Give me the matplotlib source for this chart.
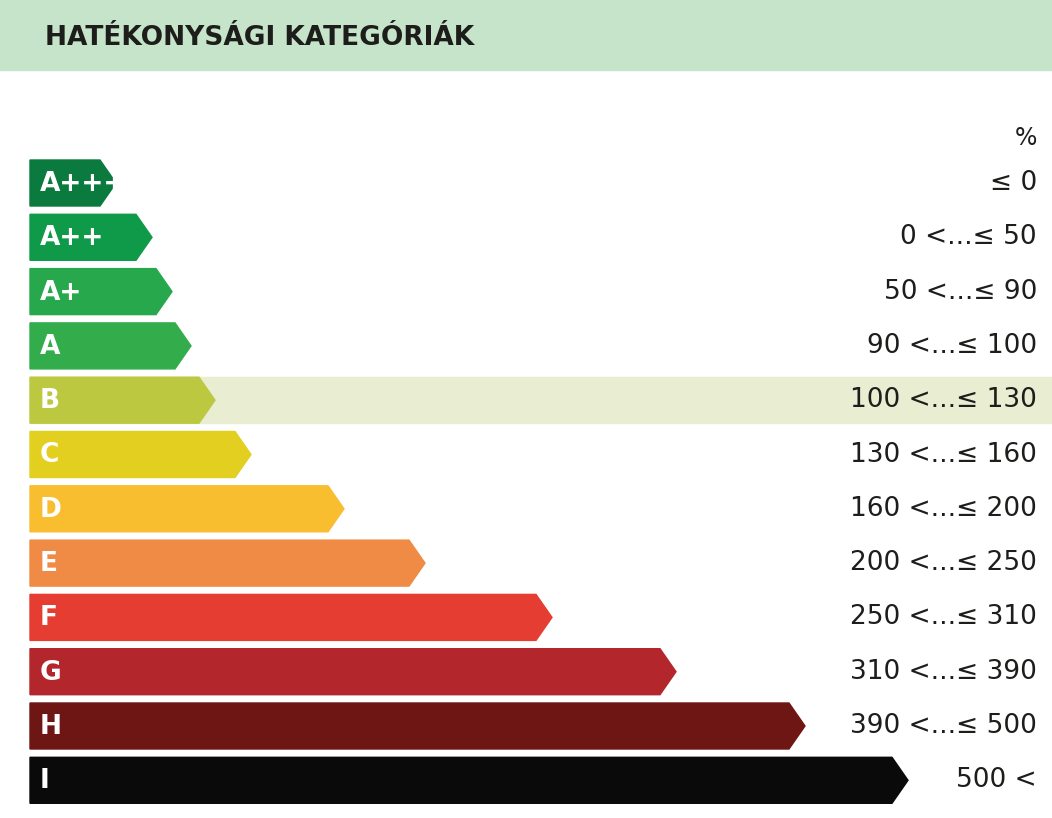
import matplotlib
matplotlib.use("Agg")
import matplotlib.pyplot as plt
from matplotlib.patches import Polygon, Rectangle

categories = ["A+++", "A++", "A+", "A", "B", "C", "D", "E", "F", "G", "H", "I"]
ranges = ["≤ 0", "0 <...≤ 50", "50 <...≤ 90", "90 <...≤ 100", "100 <...≤ 130",
          "130 <...≤ 160", "160 <...≤ 200", "200 <...≤ 250", "250 <...≤ 310",
          "310 <...≤ 390", "390 <...≤ 500", "500 <"]
bar_ends = [116, 152, 172, 191, 215, 251, 344, 425, 552, 676, 805, 908]
colors = ["#0b7a3e", "#0f9a4a", "#27a84c", "#33ad4c", "#bcc840", "#e3cf1f",
          "#f9bd30", "#ef8b45", "#e53d31", "#b3262b", "#6e1613", "#0a0a0a"]
highlight = "B"

W, H = 1052, 818
fig = plt.figure(figsize=(W/100, H/100), dpi=100)
ax = fig.add_axes([0, 0, 1, 1])
ax.set_xlim(0, W); ax.set_ylim(H, 0); ax.axis("off")

ax.add_patch(Rectangle((0, 0), W, 70, color="#c6e4ca", zorder=0))
ax.text(45, 38, "HATÉKONYSÁGI KATEGÓRIÁK", fontsize=19, fontweight="bold",
        color="#1d1d1b", va="center", ha="left")
ax.text(1037, 138, "%", fontsize=17, color="#1d1d1b", ha="right", va="center")

x0, y_first, step, h, tip = 30, 183, 54.3, 46, 16
for i, (cat, rng, end, col) in enumerate(zip(categories, ranges, bar_ends, colors)):
    yc = y_first + i * step
    if cat == highlight:
        ax.add_patch(Rectangle((x0, yc - 23), W - x0, 46, color="#e9edd2", zorder=1))
    poly = [(x0, yc - h/2), (end - tip, yc - h/2), (end, yc), (end - tip, yc + h/2), (x0, yc + h/2)]
    ax.add_patch(Polygon(poly, closed=True, color=col, zorder=2))
    ax.text(x0 + 10, yc + 1, cat, fontsize=19, fontweight="bold", color="white",
            va="center", ha="left", zorder=3)
    ax.text(1037, yc, rng, fontsize=19, color="#1d1d1b", va="center", ha="right", zorder=3)

fig.savefig("out.png", dpi=100)
